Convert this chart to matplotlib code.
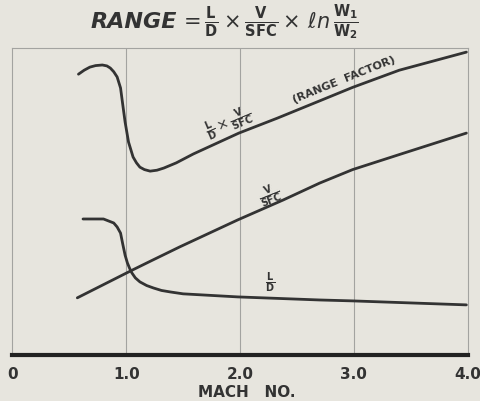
import matplotlib
matplotlib.use("Agg")
import matplotlib.pyplot as plt
import numpy as np

# values (y in arbitrary units, 0..10)
mach_range = [0.58, 0.63, 0.68, 0.73, 0.79, 0.83, 0.86, 0.89, 0.92, 0.95, 0.97, 0.99,
              1.02, 1.06, 1.09, 1.12, 1.16, 1.21, 1.27, 1.33, 1.44, 1.59, 1.99, 2.33,
              2.70, 2.99, 3.40, 3.99]
range_factor = [9.15, 9.28, 9.38, 9.43, 9.45, 9.42, 9.35, 9.23, 9.06, 8.70, 8.14, 7.59,
                6.94, 6.45, 6.26, 6.12, 6.04, 5.99, 6.02, 6.09, 6.26, 6.55, 7.23, 7.72,
                8.28, 8.72, 9.28, 9.87]

mach_vsfc = [0.57, 1.04, 1.21, 1.47, 1.98, 2.38, 2.70, 2.99, 3.40, 3.99]
v_sfc = [1.86, 2.74, 3.05, 3.52, 4.40, 5.05, 5.60, 6.04, 6.53, 7.23]

mach_ld = [0.62, 0.80, 0.89, 0.92, 0.95, 0.97, 0.99, 1.01, 1.03, 1.05, 1.08, 1.12,
           1.18, 1.24, 1.31, 1.39, 1.50, 1.98, 2.70, 2.99, 3.99]
l_over_d = [4.43, 4.43, 4.30, 4.17, 3.97, 3.60, 3.25, 3.00, 2.82, 2.67, 2.51, 2.38,
            2.26, 2.18, 2.10, 2.05, 1.99, 1.89, 1.79, 1.76, 1.63]

xticks = [0, 1, 2, 3, 4]
xtick_labels = ["0", "1.0", "2.0", "3.0", "4.0"]

paper = "#e7e5de"
ink = "#333333"
faint = "#a3a3a0"

plt.rcParams["mathtext.fontset"] = "dejavusans"

fig = plt.figure(figsize=(4.8, 4.01), dpi=100, facecolor=paper)
ax = fig.add_axes([0.026, 0.115, 0.948, 0.765], facecolor=paper)

for xs, ys in [(mach_range, range_factor), (mach_vsfc, v_sfc), (mach_ld, l_over_d)]:
    ax.plot(xs, ys, color=ink, lw=2.0, solid_capstyle="round", solid_joinstyle="round")

ax.set_xlim(0, 4)
ax.set_ylim(0, 10)

# grid at each mach number
for m in [1, 2, 3]:
    ax.axvline(m, color=faint, lw=0.8, zorder=0)

for side in ["left", "right", "top"]:
    ax.spines[side].set_color(faint)
    ax.spines[side].set_linewidth(0.8)
ax.spines["bottom"].set_color("#222222")
ax.spines["bottom"].set_linewidth(3)

ax.set_yticks([])
ax.set_xticks(xticks)
ax.set_xticklabels(xtick_labels, fontsize=11, fontweight="bold", color=ink)
ax.tick_params(axis="x", length=0, pad=9)

fig.text(0.515, 0.022, "MACH   NO.", ha="center", va="center", fontsize=11,
         fontweight="bold", color=ink)

# curve labels
ax.text(1.90, 7.56, r"$\frac{\mathbf{L}}{\mathbf{D}}\times\frac{\mathbf{V}}{\mathbf{SFC}}$",
        fontsize=10, color=ink, rotation=23, ha="center", va="center",
        rotation_mode="anchor")
ax.text(2.91, 8.96, "(RANGE  FACTOR)", fontsize=8, fontweight="bold", color=ink,
        rotation=22, ha="center", va="center", rotation_mode="anchor")
ax.text(2.26, 5.21, r"$\frac{\mathbf{V}}{\mathbf{SFC}}$", fontsize=10, color=ink,
        rotation=22, ha="center", va="center", rotation_mode="anchor")
ax.text(2.26, 2.35, r"$\frac{\mathbf{L}}{\mathbf{D}}$", fontsize=10, color=ink,
        ha="center", va="center")

# formula on top
fig.text(0.368, 0.945, "RANGE", ha="right", va="center", fontsize=16,
         fontweight="bold", style="italic", color=ink)
fig.text(0.372, 0.945,
         r"$=\frac{\mathbf{L}}{\mathbf{D}}\times\frac{\mathbf{V}}{\mathbf{SFC}}\times\,\ell n\,\frac{\mathbf{W_1}}{\mathbf{W_2}}$",
         ha="left", va="center", fontsize=15, color=ink)

fig.savefig("out.png", dpi=100, facecolor=paper)
